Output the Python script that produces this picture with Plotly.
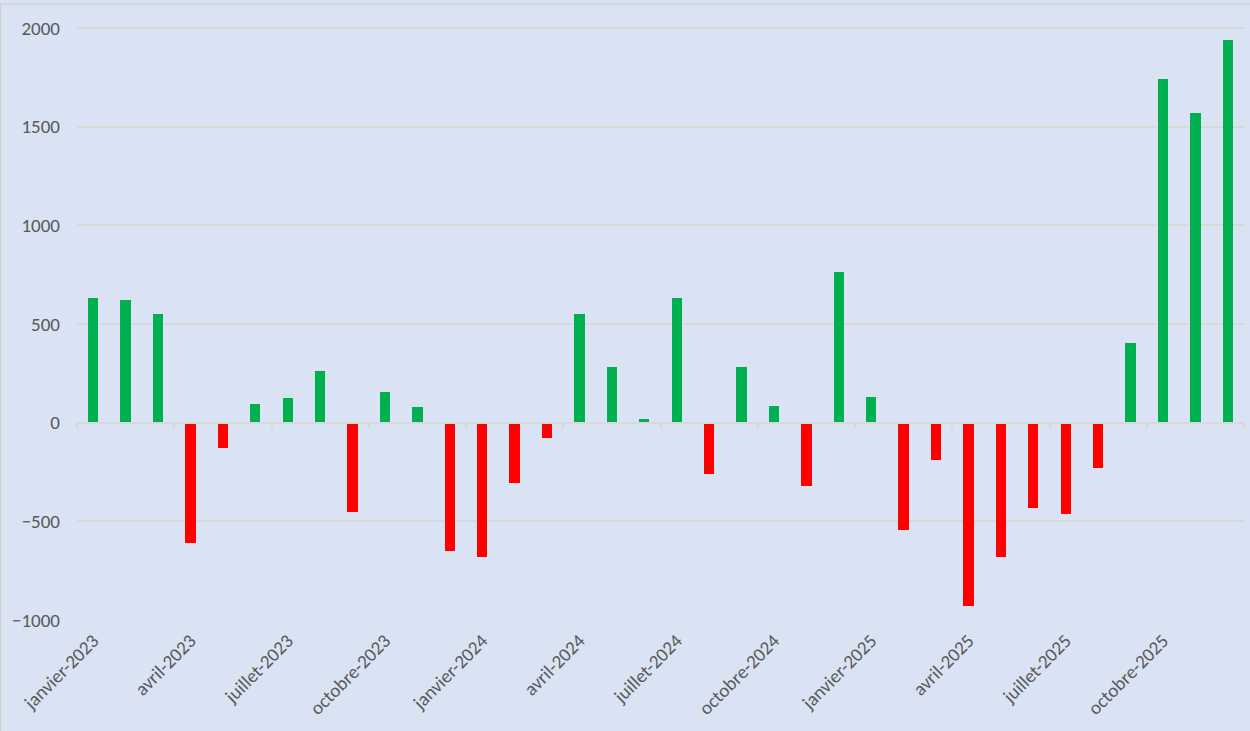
import plotly.graph_objects as go

# monthly values, janvier-2023 .. décembre-2025
mois = ["janvier", "février", "mars", "avril", "mai", "juin", "juillet",
        "août", "septembre", "octobre", "novembre", "décembre"]
annees = [2023, 2024, 2025]
categories = [f"{m}-{a}" for a in annees for m in mois]

valeurs = [630, 620, 550, -610, -130, 95, 125, 260, -455, 155, 78, -650,
           -683, -305, -78, 552, 280, 20, 630, -260, 280, 86, -320, 765,
           130, -545, -190, -930, -680, -430, -465, -232, 405, 1740, 1570, 1940]

# labelled months (every quarter)
tick_labels = categories[::3]

y_min, y_max = -1000, 2122

couleurs = ["#00B050" if v >= 0 else "#FF0000" for v in valeurs]

fig = go.Figure(
    go.Bar(x=categories, y=valeurs, marker=dict(color=couleurs, line=dict(width=0)),
           width=0.32, showlegend=False)
)

font_main = "Calibri, Carlito, Lato, sans-serif"

fig.update_layout(
    width=1250, height=731,
    margin=dict(l=77, r=6, t=4, b=111),
    paper_bgcolor="#DAE3F3",
    plot_bgcolor="#DAE3F3",
    font=dict(family=font_main, size=19, color="#595959"),
    xaxis=dict(
        type="category", categoryorder="array", categoryarray=categories,
        tickmode="array", tickvals=tick_labels, ticktext=tick_labels,
        tickangle=-45, showgrid=False, zeroline=False, showline=False,
        ticks="", ticklabelstandoff=5,
    ),
    # thin axis line with quarter tick marks, sitting on zero
    xaxis2=dict(
        overlaying="x", anchor="free", position=(0 - y_min) / (y_max - y_min),
        range=[-0.5, len(categories) - 0.5], showgrid=False, zeroline=False,
        showline=True, linecolor="#D9D9D9", linewidth=1.5,
        tickmode="array", tickvals=[i - 0.5 for i in range(0, len(categories) + 1, 3)],
        ticks="outside", ticklen=6, tickcolor="#D9D9D9", tickwidth=1.5,
        showticklabels=False, side="bottom",
    ),
    yaxis=dict(
        range=[y_min, y_max], tickmode="array",
        tickvals=[-1000, -500, 0, 500, 1000, 1500, 2000],
        showgrid=True, gridcolor="#D9D9D9", gridwidth=1.5,
        zeroline=False, showline=False, ticks="", ticklabelstandoff=16,
    ),
    bargap=0,
)

# dummy trace so xaxis2 gets drawn
fig.add_trace(go.Scatter(x=[0], y=[0], xaxis="x2", mode="markers",
                         marker=dict(opacity=0), showlegend=False, hoverinfo="skip"))

# chart area border (top and left edges)
fig.add_shape(type="line", xref="paper", yref="paper", x0=-0.066, x1=1.01, y0=1, y1=1,
              line=dict(color="#D0D0D0", width=1.5))
fig.add_shape(type="line", xref="paper", yref="paper", x0=-0.0655, x1=-0.0655, y0=1, y1=-0.2,
              line=dict(color="#D0D0D0", width=1.5))

# page body has an 8px default margin; drop it so the figure sits at 0,0
fig.write_html("out.html", config={"displayModeBar": False},
               post_script="document.body.style.margin='0';")
